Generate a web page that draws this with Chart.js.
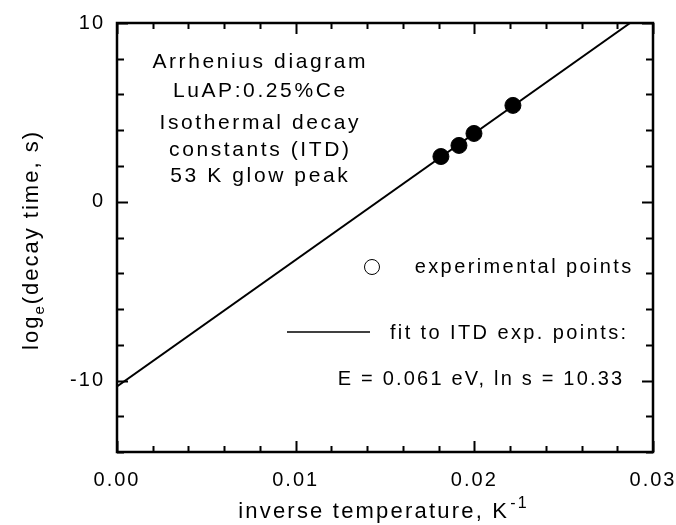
<!DOCTYPE html>
<html>
<head>
<meta charset="utf-8">
<script src="https://cdn.jsdelivr.net/npm/chart.js@4/dist/chart.umd.min.js"></script>
<style>
  html, body { margin: 0; padding: 0; background: #fff; }
  #wrap { width: 676px; height: 525px; }
</style>
</head>
<body>
<div id="wrap"><canvas id="arrhenius" width="676" height="525"></canvas></div>
<script>
// data
const pointsX = [0.01813, 0.01914, 0.01998, 0.02216];   // 1/T, K^-1
const pointsY = [2.53, 3.15, 3.82, 5.39];               // ln(decay time, s)
const fitX = [0.0, 0.02872];
const fitY = [-10.33, 10.0];
const xTicks = [0.00, 0.01, 0.02, 0.03];
const yTicks = [-10, 0, 10];
const infoLines = ['Arrhenius diagram', 'LuAP:0.25%Ce', 'Isothermal decay', 'constants (ITD)', '53 K glow peak'];

const FONT = '"Liberation Sans", Arial, sans-serif';

function spacedText(ctx, str, x, y, size, align, spacing) {
    ctx.save();
    ctx.font = size + 'px ' + FONT;
    ctx.letterSpacing = spacing + 'px';
    ctx.fillStyle = '#000';
    ctx.textBaseline = 'alphabetic';
    let w = ctx.measureText(str).width - spacing;
    let x0 = x;
    if (align === 'center') x0 = x - w / 2;
    if (align === 'right') x0 = x - w;
    ctx.textAlign = 'left';
    ctx.fillText(str, x0, y);
    ctx.restore();
}

// wider letter spacing everywhere, like the original plot
const letterSpacing = {
    id: 'letterSpacing',
    beforeUpdate(chart) { chart.ctx.letterSpacing = '2px'; },
    beforeDraw(chart) { chart.ctx.letterSpacing = '2px'; }
};

// box around the plot with inward ticks on all four sides
const frame = {
    id: 'frame',
    beforeDatasetsDraw(chart) {
        const ctx = chart.ctx;
        const a = chart.chartArea;
        const xs = chart.scales.x, ys = chart.scales.y;
        ctx.save();
        ctx.strokeStyle = '#000';
        ctx.lineWidth = 2;
        // minor ticks every 0.002 on x, every 2 on y
        for (let i = 0; i <= 15; i++) {
            const v = i * 0.002;
            const px = Math.round(xs.getPixelForValue(v)) + 0.5;
            const major = i % 5 === 0;
            const len = major ? 11 : 6;
            ctx.beginPath();
            ctx.moveTo(px, a.bottom); ctx.lineTo(px, a.bottom - len);
            ctx.moveTo(px, a.top); ctx.lineTo(px, a.top + len);
            ctx.stroke();
        }
        for (let v = -14; v <= 10; v += 2) {
            const py = Math.round(ys.getPixelForValue(v)) + 0.5;
            const major = v % 10 === 0;
            const len = major ? 11 : 7;
            ctx.beginPath();
            ctx.moveTo(a.left, py); ctx.lineTo(a.left + len, py);
            ctx.moveTo(a.right, py); ctx.lineTo(a.right - len, py);
            ctx.stroke();
        }
        ctx.lineWidth = 2.5;
        ctx.strokeRect(a.left, a.top, a.right - a.left, a.bottom - a.top);
        ctx.restore();
    }
};

// text block, legend and axis titles
const notes = {
    id: 'notes',
    afterDraw(chart) {
        const ctx = chart.ctx;
        const baselines = [68, 97, 129, 156, 182];
        infoLines.forEach(function(line, i) {
            spacedText(ctx, line, 259, baselines[i], 21, 'center', 2.6);
        });

        // legend: open circle
        ctx.save();
        ctx.strokeStyle = '#000';
        ctx.lineWidth = 1;
        ctx.beginPath();
        ctx.arc(372, 267, 7.5, 0, Math.PI * 2);
        ctx.stroke();
        // legend: fit line
        ctx.lineWidth = 1.5;
        ctx.beginPath();
        ctx.moveTo(287, 332); ctx.lineTo(370, 332);
        ctx.stroke();
        ctx.restore();
        spacedText(ctx, 'experimental points', 523, 273, 20, 'center', 2.4);
        spacedText(ctx, 'fit to ITD exp. points:', 508, 339, 20, 'center', 2.4);
        spacedText(ctx, 'E = 0.061 eV, ln s = 10.33', 480, 385, 20, 'center', 2.2);

        // x axis title with superscript
        ctx.save();
        ctx.font = '22px ' + FONT;
        ctx.letterSpacing = '2.2px';
        ctx.fillStyle = '#000';
        ctx.textAlign = 'left';
        const main = 'inverse temperature, K';
        const wMain = ctx.measureText(main).width;
        ctx.font = '16px ' + FONT;
        const wSup = ctx.measureText('-1').width;
        const x0 = 383 - (wMain + wSup) / 2;
        ctx.font = '22px ' + FONT;
        ctx.fillText(main, x0, 518);
        ctx.font = '16px ' + FONT;
        ctx.fillText('-1', x0 + wMain + 1, 508);
        ctx.restore();

        // y axis title with subscript
        ctx.save();
        ctx.translate(38, 240);
        ctx.rotate(-Math.PI / 2);
        ctx.fillStyle = '#000';
        ctx.textAlign = 'left';
        ctx.letterSpacing = '2px';
        ctx.font = '22px ' + FONT;
        const p1 = 'log', p3 = '(decay time, s)';
        const w1 = ctx.measureText(p1).width;
        const w3 = ctx.measureText(p3).width;
        ctx.font = '15px ' + FONT;
        const w2 = ctx.measureText('e').width;
        let lx = -(w1 + w2 + w3) / 2;
        ctx.font = '22px ' + FONT;
        ctx.fillText(p1, lx, 0);
        lx += w1;
        ctx.font = '15px ' + FONT;
        ctx.fillText('e', lx, 6);
        lx += w2;
        ctx.font = '22px ' + FONT;
        ctx.fillText(p3, lx, 0);
        ctx.restore();
    }
};

const fitData = fitX.map(function(x, i) { return { x: x, y: fitY[i] }; });
const pointData = pointsX.map(function(x, i) { return { x: x, y: pointsY[i] }; });

new Chart(document.getElementById('arrhenius'), {
    type: 'scatter',
    data: {
        datasets: [{
            label: 'fit to ITD exp. points',
            data: fitData,
            showLine: true,
            borderColor: '#000',
            borderWidth: 2,
            pointRadius: 0,
            fill: false
        }, {
            label: 'experimental points',
            data: pointData,
            pointRadius: 8,
            pointBackgroundColor: '#000',
            pointBorderColor: '#000',
            pointBorderWidth: 1
        }]
    },
    options: {
        responsive: false,
        animation: false,
        devicePixelRatio: 1,
        layout: { padding: { top: 23, right: 23, left: 0, bottom: 0 } },
        plugins: {
            legend: { display: false },
            tooltip: { enabled: false }
        },
        scales: {
            x: {
                type: 'linear',
                min: 0,
                max: 0.03,
                afterFit: function(s) {
                    s.height = 73;
                    s.paddingLeft = 0;
                    s.paddingRight = 0;
                },
                afterBuildTicks: function(s) { s.ticks = xTicks.map(function(v) { return { value: v }; }); },
                grid: { display: false, drawTicks: false },
                border: { display: false },
                ticks: {
                    color: '#000',
                    padding: 16,
                    maxRotation: 0,
                    font: { family: FONT, size: 20 },
                    callback: function(v) { return v.toFixed(2); }
                }
            },
            y: {
                type: 'linear',
                min: -14,
                max: 10,
                afterFit: function(s) {
                    s.width = 117;
                    s.paddingTop = 0;
                    s.paddingBottom = 0;
                },
                afterBuildTicks: function(s) { s.ticks = yTicks.map(function(v) { return { value: v }; }); },
                grid: { display: false, drawTicks: false },
                border: { display: false },
                ticks: {
                    color: '#000',
                    padding: 12,
                    font: { family: FONT, size: 20 },
                    callback: function(v) { return String(v); }
                }
            }
        }
    },
    plugins: [letterSpacing, frame, notes]
});
</script>
</body>
</html>
